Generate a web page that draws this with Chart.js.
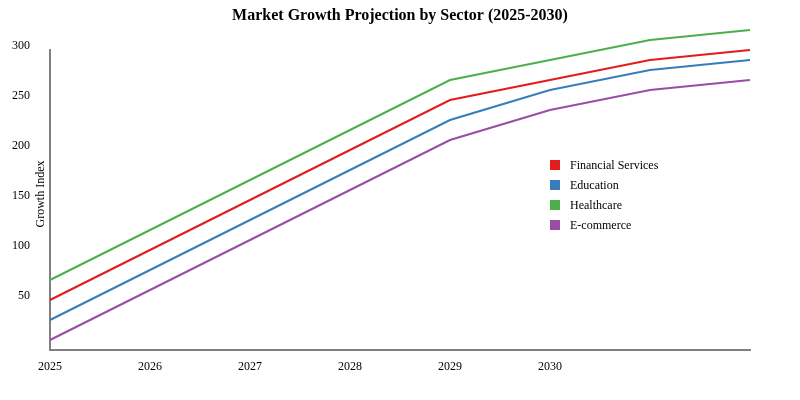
<!DOCTYPE html>
<html>
<head>
<meta charset="utf-8">
<title>Market Growth Projection by Sector</title>
<script src="https://cdn.jsdelivr.net/npm/chart.js@4/dist/chart.umd.min.js"></script>
<style>
  html, body { margin: 0; padding: 0; background: #fff; }
  #wrap { width: 800px; height: 400px; position: relative; }
</style>
</head>
<body>
<div id="wrap"><canvas id="chart"></canvas></div>
<script>
// Yearly values. Axis labels stop at 2030, but the
// lines carry on two more years to the right edge.
const YEARS = [2025, 2026, 2027, 2028, 2029, 2030, 2031, 2032];
const TICK_YEARS = [2025, 2026, 2027, 2028, 2029, 2030];
const FINANCIAL = [50, 100, 150, 200, 250, 270, 290, 300];
const EDUCATION = [30, 80, 130, 180, 230, 260, 280, 290];
const HEALTHCARE = [70, 120, 170, 220, 270, 290, 310, 320];
const ECOMMERCE = [10, 60, 110, 160, 210, 240, 260, 270];

const SERIES = [
  { label: 'Financial Services', values: FINANCIAL, color: '#e41a1c' },
  { label: 'Education', values: EDUCATION, color: '#377eb8' },
  { label: 'Healthcare', values: HEALTHCARE, color: '#4daf4a' },
  { label: 'E-commerce', values: ECOMMERCE, color: '#984ea3' },
];

const FONT = '"Liberation Serif", "Times New Roman", serif';
const AXIS_GREY = '#808080';

// legend box + rotated y title drawn by hand, since both sit inside the plot
const overlay = {
  id: 'overlay',
  afterDraw(chart) {
    const ctx = chart.ctx;
    ctx.save();
    ctx.font = '12px ' + FONT;
    ctx.textBaseline = 'middle';
    ctx.textAlign = 'left';
    chart.data.datasets.forEach((ds, i) => {
      const y = 165 + i * 20;
      ctx.fillStyle = ds.borderColor;
      ctx.fillRect(550, y - 5, 10, 10);
      ctx.fillStyle = '#000';
      ctx.fillText(ds.label, 570, y + 1);
    });
    ctx.translate(41, 194);
    ctx.rotate(-Math.PI / 2);
    ctx.textAlign = 'center';
    ctx.fillText('Growth Index', 0, 0);
    ctx.restore();
  },
};

new Chart(document.getElementById('chart'), {
  type: 'line',
  data: {
    datasets: SERIES.map((s) => ({
      label: s.label,
      data: YEARS.map((yr, i) => ({ x: yr, y: s.values[i] })),
      borderColor: s.color,
      backgroundColor: s.color,
      borderWidth: 2,
      pointRadius: 0,
      tension: 0,
      clip: false,
    })),
  },
  options: {
    responsive: true,
    maintainAspectRatio: false,
    animation: false,
    layout: { padding: 0 },
    plugins: {
      legend: { display: false },
      tooltip: { enabled: false },
      title: {
        display: true,
        text: 'Market Growth Projection by Sector (2025-2030)',
        color: '#000',
        font: { family: FONT, size: 16, weight: 'bold', lineHeight: 1.2 },
        padding: { top: 6, bottom: 24.8 },
      },
    },
    scales: {
      x: {
        type: 'linear',
        min: 2025,
        max: 2032,
        afterFit: (s) => { s.height = 50; },
        afterBuildTicks: (s) => { s.ticks = TICK_YEARS.map((v) => ({ value: v })); },
        grid: { display: false, drawTicks: false },
        border: { display: true, color: AXIS_GREY, width: 2 },
        ticks: {
          color: '#000',
          padding: 10,
          maxRotation: 0,
          autoSkip: false,
          font: { family: FONT, size: 12 },
          callback: (v) => String(v),
        },
      },
      y: {
        min: 0,
        max: 300,
        afterFit: (s) => { s.width = 50; },
        grid: { display: false, drawTicks: false },
        border: { display: true, color: AXIS_GREY, width: 2 },
        ticks: {
          stepSize: 50,
          color: '#000',
          padding: 20,
          labelOffset: -4,
          font: { family: FONT, size: 12 },
          callback: (v) => (v === 0 ? '' : String(v)),
        },
      },
      // empty right-hand gutter so the title centres on the whole canvas
      gutter: {
        position: 'right',
        min: 0,
        max: 300,
        afterFit: (s) => { s.width = 50; },
        grid: { display: false, drawTicks: false },
        border: { display: false },
        ticks: { display: false },
      },
    },
  },
  plugins: [overlay],
});
</script>
</body>
</html>
